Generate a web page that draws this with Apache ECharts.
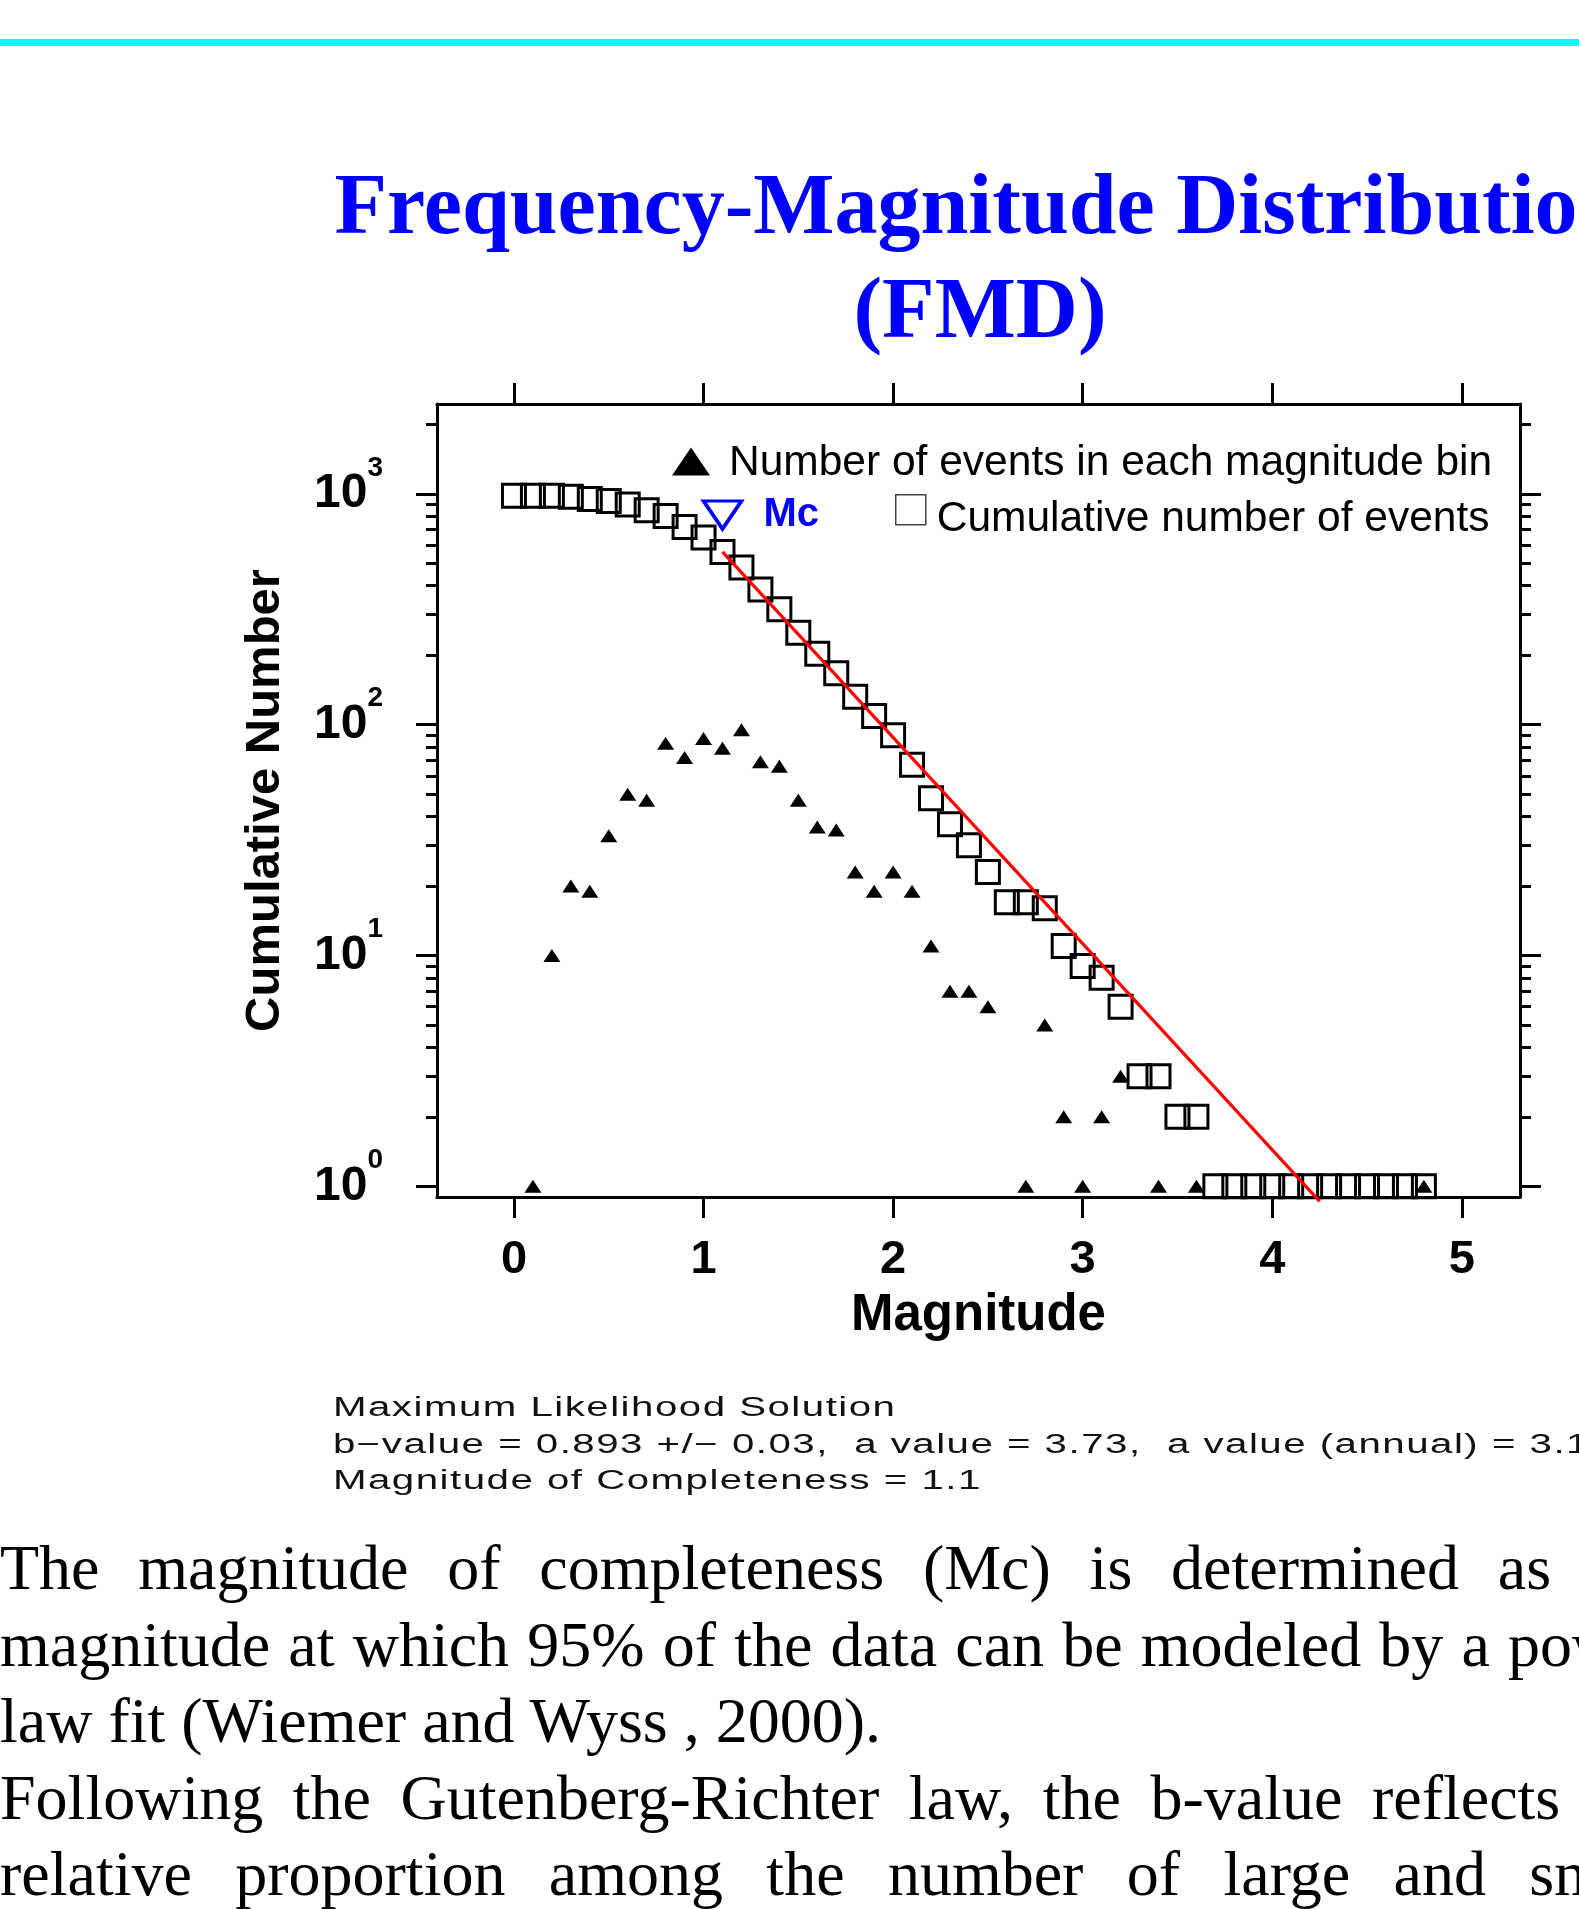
<!DOCTYPE html>
<html>
<head>
<meta charset="utf-8">
<title>Frequency-Magnitude Distribution</title>
<script src="https://cdn.jsdelivr.net/npm/echarts/dist/echarts.min.js"></script>
<style>
  html,body{margin:0;padding:0;background:#fff;overflow:hidden}
  #main{position:absolute;left:0;top:0;width:1579px;height:1909px}
  #stats{position:absolute;left:333px;top:1389px;font-family:'Liberation Sans';font-size:27px;line-height:36.5px;color:#111;letter-spacing:1px;transform:scaleX(1.49);transform-origin:0 0;white-space:nowrap}
  #para{position:absolute;left:0;top:1530px;width:1668px;font-family:'Liberation Serif';font-size:64px;line-height:76.5px;color:#000;text-align:justify}
  #para p{margin:0}
</style>
</head>
<body>
<div id="main"></div>
<div id="stats">Maximum Likelihood Solution<br>b&minus;value = 0.893 +/&minus; 0.03,&nbsp; a value = 3.73,&nbsp; a value (annual) = 3.1<br>Magnitude of Completeness = 1.1</div>
<div id="para">
  <p>The magnitude of completeness (Mc) is determined as the magnitude at which 95% of the data can be modeled by a power law fit (Wiemer and Wyss , 2000).</p>
  <p>Following the Gutenberg-Richter law, the b-value reflects the relative proportion among the number of large and small earthquakes.</p>
</div>
<script>
// cumulative number of events (squares)
const cumMag = [0.0, 0.1, 0.2, 0.3, 0.4, 0.5, 0.6, 0.7, 0.8, 0.9,
  1.0, 1.1, 1.2, 1.3, 1.4, 1.5, 1.6, 1.7, 1.8, 1.9,
  2.0, 2.1, 2.2, 2.3, 2.4, 2.5, 2.6, 2.7, 2.8, 2.9,
  3.0, 3.1, 3.2, 3.3, 3.4, 3.5, 3.6, 3.7, 3.8, 3.9,
  4.0, 4.1, 4.2, 4.3, 4.4, 4.5, 4.6, 4.7, 4.8]
const cumCount = [981, 981, 980, 970, 950, 931, 898, 848, 801, 718,
  646, 559, 480, 385, 316, 250, 203, 167, 132, 109,
  90, 67, 48, 37, 30, 23, 17, 17, 16, 11,
  9, 8, 6, 3, 3, 2, 2, 1, 1, 1,
  1, 1, 1, 1, 1, 1, 1, 1, 1]

// events in each magnitude bin (triangles)
const binMag = [0.1, 0.2, 0.3, 0.4, 0.5, 0.6, 0.7, 0.8, 0.9, 1.0,
  1.1, 1.2, 1.3, 1.4, 1.5, 1.6, 1.7, 1.8, 1.9, 2.0,
  2.1, 2.2, 2.3, 2.4, 2.5, 2.7, 2.8, 2.9, 3.0, 3.1,
  3.2, 3.4, 3.6, 4.8]
const binCount = [1, 10, 20, 19, 33, 50, 47, 83, 72, 87,
  79, 95, 69, 66, 47, 36, 35, 23, 19, 23,
  19, 11, 7, 7, 6, 1, 5, 2, 1, 2,
  3, 1, 1, 1]

// maximum likelihood fit line, from Mc to where it leaves the plot
const fitMag = [1.1, 4.25]
const fitCount = [560, 0.86]

// magnitude of completeness marker
const mcMag = 1.1
const mcLevel = 810

const xTicks = [0, 1, 2, 3, 4, 5]
const yMajor = [1, 10, 100, 1000]
const yMinor = [2, 3, 4, 5, 6, 7, 8, 9, 20, 30, 40, 50, 60, 70, 80, 90,
  200, 300, 400, 500, 600, 700, 800, 900, 2000]

const black = {color: '#000', width: 3}
const boldFont = {fontFamily: 'Liberation Sans', fontWeight: 'bold', color: '#000'}

const chart = echarts.init(document.getElementById('main'))

function xAxis(pos, labels) {
  return {
    type: 'value', position: pos, min: -0.406, max: 5.307,
    axisLine: {show: true, onZero: false, lineStyle: black},
    axisTick: {show: true, customValues: xTicks, length: 21, lineStyle: black},
    axisLabel: labels
      ? Object.assign({customValues: xTicks, margin: 40, fontSize: 47}, boldFont)
      : {show: false},
    splitLine: {show: false}
  }
}
function yAxis(pos, ticks, len, labels) {
  return {
    type: 'log', position: pos, min: 0.899, max: 2449,
    axisLine: {show: ticks === yMajor, onZero: false, lineStyle: black},
    axisTick: {show: true, customValues: ticks, length: len, lineStyle: black},
    axisLabel: labels ? {
      customValues: ticks, margin: 54,
      formatter: v => '{b|10}{s|' + Math.round(Math.log10(v)) + '}',
      rich: {
        b: Object.assign({fontSize: 48, lineHeight: 80}, boldFont),
        s: Object.assign({fontSize: 28, lineHeight: 28, verticalAlign: 'top'}, boldFont)
      }
    } : {show: false},
    splitLine: {show: false},
    minorTick: {show: false}
  }
}

const xb = xAxis('bottom', true)
xb.name = 'Magnitude'
xb.nameLocation = 'middle'
xb.nameGap = 93
xb.nameTextStyle = Object.assign({fontSize: 51}, boldFont)

const yl = yAxis('left', yMajor, 21, true)
yl.name = 'Cumulative Number'
yl.nameLocation = 'middle'
yl.nameGap = 147
yl.nameTextStyle = Object.assign({fontSize: 49}, boldFont)

const legendText = {fontFamily: 'Liberation Sans', fontSize: 42.5, color: '#000'}

chart.setOption({
  animation: false,
  backgroundColor: '#fff',
  title: {
    text: 'Frequency-Magnitude Distribution\n(FMD)',
    left: 975, top: 154, textAlign: 'center',
    textStyle: {fontFamily: 'Liberation Serif', fontWeight: 'bold', fontSize: 86, lineHeight: 104, color: '#0000ff'}
  },
  graphic: [
    {type: 'rect', left: 0, top: 39, shape: {width: 1579, height: 7}, style: {fill: '#00ffff'}}
  ],
  legend: [
    {
      data: [{name: 'Number of events in each magnitude bin', icon: 'triangle'}],
      left: 672, top: 442, padding: 0, itemWidth: 38, itemHeight: 28, selectedMode: false,
      formatter: n => '{t|' + n + '}',
      textStyle: Object.assign({rich: {t: Object.assign({padding: [4, 0, 0, 14]}, legendText)}}, legendText)
    },
    {
      data: [{name: 'Cumulative number of events', icon: 'rect',
        itemStyle: {color: '#fff', borderColor: '#444', borderWidth: 1.5, opacity: 1}}],
      left: 895, top: 494, padding: 0, itemWidth: 30, itemHeight: 30, selectedMode: false,
      formatter: n => '{t|' + n + '}',
      textStyle: Object.assign({rich: {t: Object.assign({padding: [20, 0, 0, 6]}, legendText)}}, legendText)
    }
  ],
  grid: {left: 437, top: 404, right: 59, bottom: 712},
  xAxis: [xb, xAxis('top', false)],
  yAxis: [
    yl,
    yAxis('left', yMinor, 11, false),
    yAxis('right', yMajor, 21, false),
    yAxis('right', yMinor, 11, false)
  ],
  series: [
    {
      name: 'Cumulative number of events', type: 'scatter',
      data: cumMag.map((m, i) => [m, cumCount[i]]),
      symbol: 'rect', symbolSize: 23,
      itemStyle: {color: 'rgba(0,0,0,0)', borderColor: '#000', borderWidth: 3, opacity: 1},
      z: 2
    },
    {
      name: 'Number of events in each magnitude bin', type: 'scatter',
      data: binMag.map((m, i) => [m, binCount[i]]),
      symbol: 'triangle', symbolSize: [17, 13],
      itemStyle: {color: '#000', opacity: 1},
      z: 3
    },
    {
      name: 'fit', type: 'line',
      data: fitMag.map((m, i) => [m, fitCount[i]]),
      symbol: 'none', clip: false,
      lineStyle: {color: '#ff0000', width: 3.2},
      z: 4
    },
    {
      name: 'Mc', type: 'scatter',
      data: [[mcMag, mcLevel]],
      symbol: 'triangle', symbolRotate: 180, symbolSize: [38, 28],
      itemStyle: {color: 'rgba(0,0,0,0)', borderColor: '#0000ff', borderWidth: 3.5, opacity: 1},
      label: {show: true, position: 'right', distance: 20, formatter: 'Mc',
        fontFamily: 'Liberation Sans', fontWeight: 'bold', fontSize: 40, color: '#0000ff'},
      z: 5
    }
  ]
})
</script>
</body>
</html>
